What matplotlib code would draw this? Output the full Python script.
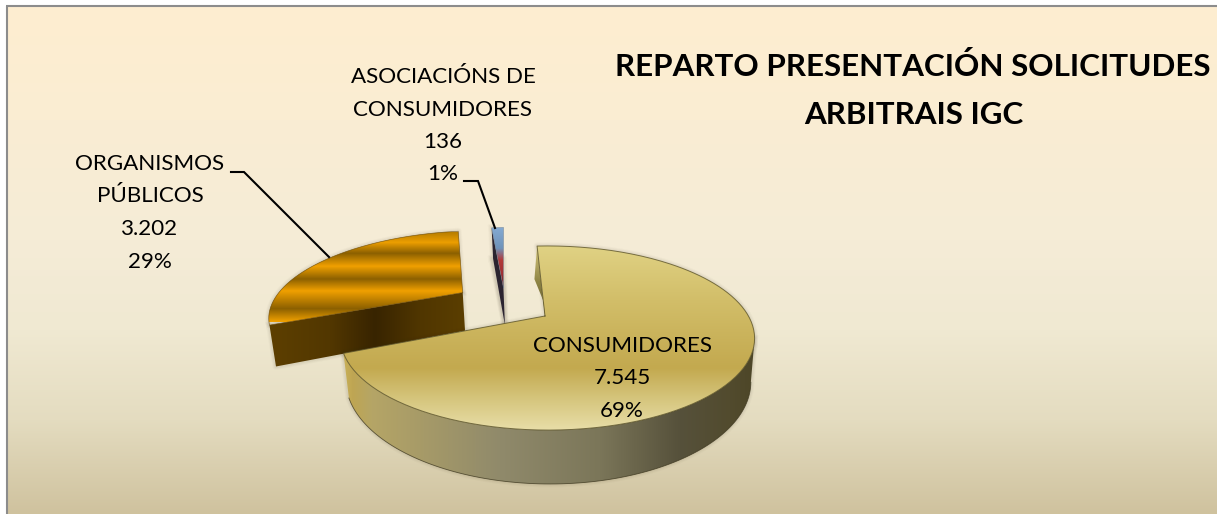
import numpy as np
import matplotlib
matplotlib.use("Agg")
import matplotlib.pyplot as plt
from matplotlib.colors import to_rgb
from matplotlib.patches import Polygon

# ---- data ----
categories = ["CONSUMIDORES", "ORGANISMOS\nPÚBLICOS", "ASOCIACIÓNS DE\nCONSUMIDORES"]
values = [7545, 3202, 136]
value_labels = ["7.545", "3.202", "136"]
title_lines = ["REPARTO PRESENTACIÓN SOLICITUDES", "ARBITRAIS IGC"]

# ---- layout of the projected pie ----
W, H = 1217, 514
TIP = (545.0, 316.0)
A, C, K, M = 201.0, 86.8, 0.239, -0.012
DEPTH = 41.0
START = -2.8
EXPLODE = [(0.0, 0.0), (-0.44, 0.29), (-0.225, 0.355)]

plt.rcParams["font.family"] = ["Lato", "DejaVu Sans"]
fig = plt.figure(figsize=(W / 100, H / 100), dpi=100, facecolor="white")
ax = fig.add_axes([0, 0, 1, 1])
ax.set_xlim(0, W)
ax.set_ylim(H, 0)
ax.axis("off")


def project(x, y):
    d = 1 + K * y + M * x
    return TIP[0] + A * x / d, TIP[1] - C * y / d, d


def rim(t0, t1, off, n=200):
    t = np.radians(np.linspace(t0, t1, n))
    return project(np.sin(t) + off[0], np.cos(t) + off[1])


def below(sx, sy, d):
    slope = 0.02 - 0.0005 * (sx - TIP[0])
    return sx + slope * DEPTH / d, sy + DEPTH / d


def grad_image(stops, vertical, clip, z):
    pos = np.array([s[0] for s in stops], float)
    cols = np.array([to_rgb(s[1]) for s in stops])
    lo, hi = pos[0], pos[-1]
    p = np.linspace(lo, hi, int(hi - lo) + 1)
    arr = np.stack([np.interp(p, pos, cols[:, i]) for i in range(3)], axis=-1)
    if vertical:
        img = arr[:, None, :]
        ext = (0, W, hi, lo)
    else:
        img = arr[None, :, :]
        ext = (lo, hi, H, 0)
    im = ax.imshow(img, extent=ext, aspect="auto", zorder=z, interpolation="bilinear")
    if clip is not None:
        patch = Polygon(clip, closed=True, transform=ax.transData)
        im.set_clip_path(patch)
    return im


def shadow(poly, z):
    closed = np.vstack([poly, poly[:1]])
    for lw, al in [(7, 0.025), (5, 0.03), (3, 0.04)]:
        ax.plot(closed[:, 0], closed[:, 1], color="#3a3020", lw=lw * 0.72, alpha=al,
                zorder=z, solid_joinstyle="round")


def outline(poly, color, z, lw=0.7, close=True):
    closed = np.vstack([poly, poly[:1]]) if close else poly
    ax.plot(closed[:, 0], closed[:, 1], color=color, lw=lw, alpha=0.8, zorder=z,
            solid_joinstyle="round")


# ---- background ----
grad_image([(7, "#FEEED0"), (120, "#FAEDD3"), (240, "#F5ECD7"), (330, "#F0E9D2"),
            (420, "#E4DCC0"), (514, "#CFC29E")], True,
           [(8, 7), (W, 7), (W, H), (8, H)], 1)
ax.plot([7, 7], [H, 6], color="#8C8C8C", lw=1.5, zorder=2, solid_capstyle="butt")
ax.plot([6, W], [6, 6], color="#8C8C8C", lw=1.5, zorder=2, solid_capstyle="butt")

# ---- slices ----
total = sum(values)
angles = np.cumsum([0] + [v / total * 360 for v in values]) + START
CONS, ORG, ASOC = 0, 1, 2

side_stops = {
    CONS: [(340, "#CDB55A"), (352, "#BFA653"), (372, "#B5A566"), (500, "#908A6B"),
           (600, "#7B7659"), (680, "#56513B"), (730, "#524B2E"), (760, "#4C4526")],
    ORG: [(265, "#5E4000"), (330, "#523700"), (375, "#382400"), (420, "#503600"), (470, "#5C3F00")],
}
top_stops = {
    CONS: [(245, "#E0D284"), (300, "#D2BE69"), (368, "#C3A94F"), (400, "#D6C67E"), (432, "#E9DFAA")],
    ORG: [(232, "#B87E00"), (242, "#EC9E00"), (253, "#8C6000"), (266, "#F0A000"),
          (279, "#8C6000"), (291, "#F0A000"), (309, "#8C6000"), (322, "#F0A000")],
    ASOC: [(226, "#86ABD3"), (248, "#6F93BA"), (260, "#B23A3A"), (274, "#A03034"), (292, "#4A1A20")],
}

for i, zb in [(ORG, 10), (ASOC, 20), (CONS, 30)]:
    off = EXPLODE[i]
    rx, ry, rd = rim(angles[i], angles[i + 1], off)
    tx, ty, td = project(off[0], off[1])
    bx, by = below(rx, ry, rd)
    btx, bty = below(np.array([tx]), np.array([ty]), np.array([td]))
    top = np.column_stack([np.r_[tx, rx], np.r_[ty, ry]])

    if i == CONS:
        k0 = int(np.argmax(rx))
        side = np.vstack([np.column_stack([rx[k0:], ry[k0:]]),
                          np.column_stack([bx[k0:], by[k0:]])[::-1]])
        shadow(side, zb)
        shadow(top, zb)
        # back cut face, seen as a thin dark sliver left of the first edge
        lean = 0.08 * DEPTH / rd[0]
        face = np.array([[rx[0], ry[0]],
                         [rx[0] - lean, ry[0] + DEPTH / rd[0]],
                         [tx - lean + 8, ty + 2],
                         [tx, ty]])
        grad_image([(245, "#D8C97E"), (282, "#8E8444"), (318, "#5E5630")], True, face, zb + 0.5)
        grad_image(side_stops[i], False, side, zb + 1)
        outline(np.column_stack([bx[k0:], by[k0:]]), "#3E3820", zb + 2, 0.6, close=False)
        grad_image(top_stops[i], True, top, zb + 3)
        outline(top, "#5A5228", zb + 4, 0.7)
    elif i == ORG:
        side = np.array([[rx[0], ry[0]], [tx, ty], [btx[0], bty[0]], [bx[0], by[0]]])
        shadow(side, zb)
        shadow(top, zb)
        grad_image(side_stops[i], False, side, zb + 1)
        grad_image(top_stops[i], True, top, zb + 3)
        outline(top, "#6B4A08", zb + 4, 0.5)
    else:
        side = np.array([[rx[0], ry[0]], [tx, ty], [btx[0], bty[0]], [bx[0], by[0]]])
        shadow(side, zb)
        shadow(np.array([[rx[0], ry[0] + DEPTH / rd[0]], [rx[-1], ry[-1] + DEPTH / rd[-1]],
                         [btx[0], bty[0]]]), zb)
        ax.fill(side[:, 0], side[:, 1], color="#2B2430", zorder=zb + 1, lw=0)
        grad_image(top_stops[i], True, top, zb + 3)
        outline(top, "#6F7F90", zb + 4, 0.4)

ax.set_xlim(0, W)
ax.set_ylim(H, 0)

# ---- leader lines ----
ax.plot([231, 244, 329], [172, 172, 257], color="black", lw=1.5, zorder=50, solid_joinstyle="miter")
ax.plot([464, 478, 495], [181, 181, 228], color="black", lw=1.5, zorder=50, solid_joinstyle="miter")

# ---- labels ----
pct = [f"{v / total * 100:.0f}%" for v in values]
LABEL_PX = {CONS: (622, 346), ORG: (150, 164), ASOC: (443, 77)}
STEP = 32.5
for i in (CONS, ORG, ASOC):
    lines = categories[i].split("\n") + [value_labels[i], pct[i]]
    x, y = LABEL_PX[i]
    for j, s in enumerate(lines):
        ax.text(x, y + j * STEP, s, ha="center", va="center", fontsize=16.1,
                color="black", zorder=60)

# ---- title ----
ax.text(913, 67, title_lines[0], ha="center", va="center", fontsize=22.6,
        fontweight="bold", color="black", zorder=60)
ax.text(914, 115, title_lines[1], ha="center", va="center", fontsize=22.6,
        fontweight="bold", color="black", zorder=60)

fig.savefig("out.png", dpi=100, facecolor="white")
